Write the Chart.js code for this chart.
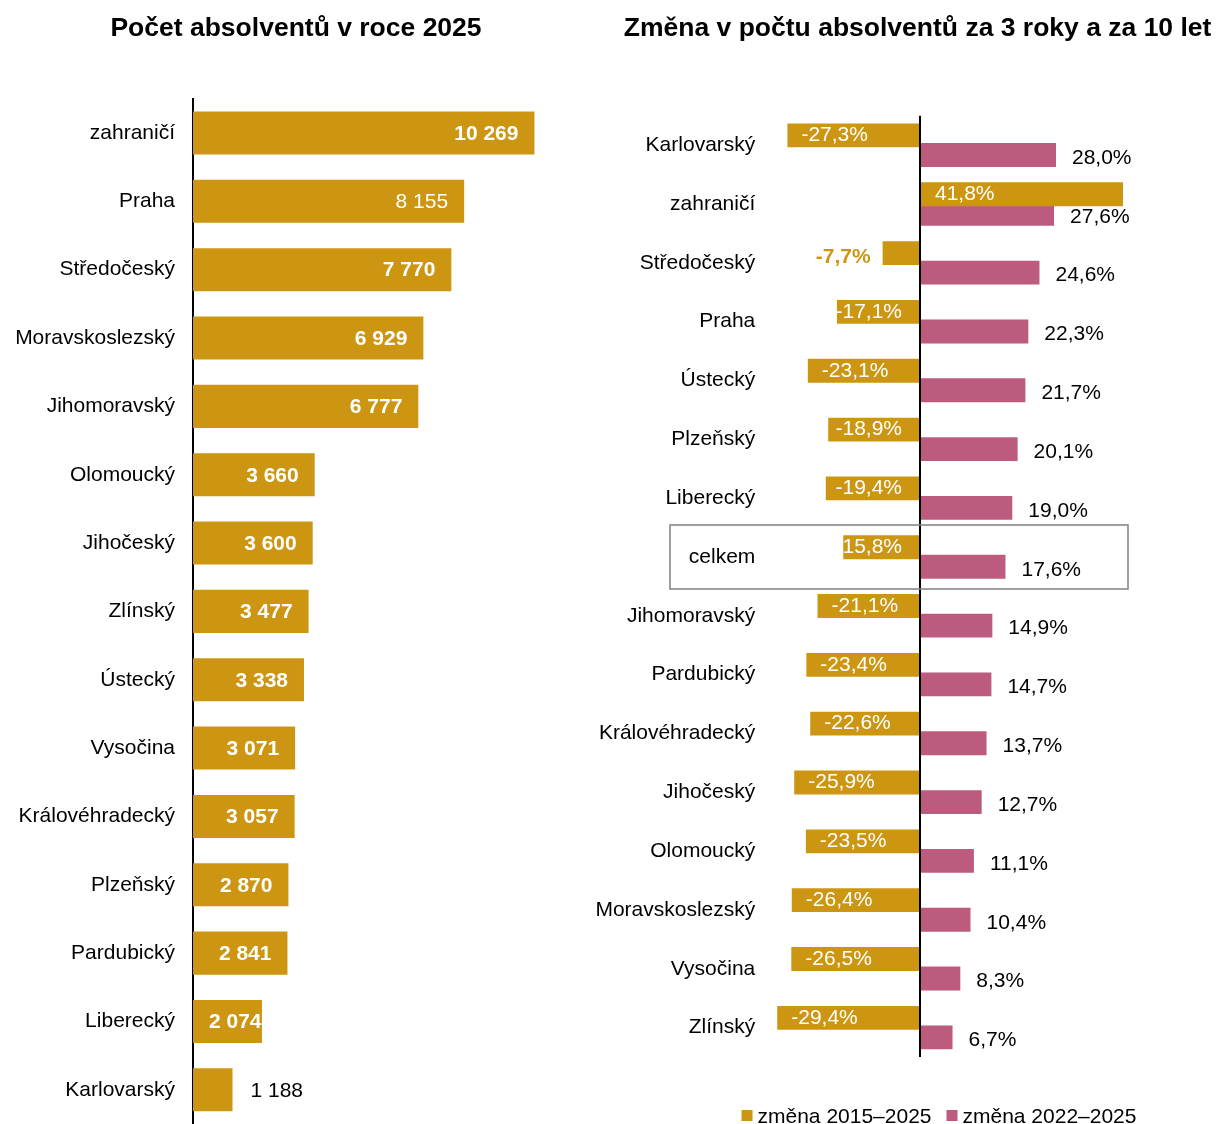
<!DOCTYPE html>
<html lang="cs">
<head>
<meta charset="utf-8">
<title>Absolventi podle krajů</title>
<script src="https://cdn.jsdelivr.net/npm/chart.js@4.4.1/dist/chart.umd.min.js"></script>
<style>
  html, body { margin: 0; padding: 0; background: #fff; overflow: hidden; }
  #countWrap { position: absolute; left: 0; top: 0; width: 592px; height: 1124px; }
  #changeWrap { position: absolute; left: 580px; top: 0; width: 638px; height: 1124px; }
</style>
</head>
<body>
<div id="countWrap"><canvas id="countChart"></canvas></div>
<div id="changeWrap"><canvas id="changeChart"></canvas></div>

<script>
// left chart - number of graduates in 2025
var countRegions = ['zahraničí', 'Praha', 'Středočeský', 'Moravskoslezský', 'Jihomoravský',
    'Olomoucký', 'Jihočeský', 'Zlínský', 'Ústecký', 'Vysočina', 'Královéhradecký',
    'Plzeňský', 'Pardubický', 'Liberecký', 'Karlovarský'];
var countValues = [10269, 8155, 7770, 6929, 6777, 3660, 3600, 3477, 3338, 3071, 3057, 2870, 2841, 2074, 1188];
var plainValueLabels = ['Praha']; // in the source this label is not bold

// right chart - change over 10 and 3 years
var changeRegions = ['Karlovarský', 'zahraničí', 'Středočeský', 'Praha', 'Ústecký', 'Plzeňský',
    'Liberecký', 'celkem', 'Jihomoravský', 'Pardubický', 'Královéhradecký', 'Jihočeský',
    'Olomoucký', 'Moravskoslezský', 'Vysočina', 'Zlínský'];
var change2015 = [-27.3, 41.8, -7.7, -17.1, -23.1, -18.9, -19.4, -15.8, -21.1, -23.4, -22.6, -25.9, -23.5, -26.4, -26.5, -29.4];
var change2022 = [28.0, 27.6, 24.6, 22.3, 21.7, 20.1, 19.0, 17.6, 14.9, 14.7, 13.7, 12.7, 11.1, 10.4, 8.3, 6.7];
var seriesNames = ['změna 2015–2025', 'změna 2022–2025'];
var unsignedLabels = ['celkem']; // source prints this one without the minus sign
var highlightRegion = 'celkem';

const ORANGE = '#CC9612';
const PINK = '#BC5B7E';
const FONT = '"Liberation Sans", Arial, sans-serif';

Chart.defaults.font.family = FONT;
Chart.defaults.color = '#000';

function fmtThousands(v) {
    return String(v).replace(/\B(?=(\d{3})+(?!\d))/g, ' ');
}

function fmtPct(v) {
    return v.toFixed(1).replace('.', ',') + '%';
}

// value labels for the left chart
const countLabels = {
    id: 'countLabels',
    afterDatasetsDraw(chart) {
        const ctx = chart.ctx;
        const meta = chart.getDatasetMeta(0);
        const x0 = chart.scales.x.getPixelForValue(0);
        ctx.save();
        ctx.textBaseline = 'middle';
        meta.data.forEach((bar, i) => {
            const txt = fmtThousands(countValues[i]);
            const bold = plainValueLabels.indexOf(countRegions[i]) < 0;
            ctx.font = (bold ? 'bold ' : '') + '21px ' + FONT;
            const w = ctx.measureText(txt).width;
            if (bar.x - x0 < w + 10) {
                // too short, put it outside
                ctx.fillStyle = '#000';
                ctx.font = '21px ' + FONT;
                ctx.textAlign = 'left';
                ctx.fillText(txt, bar.x + 18, bar.y + 1);
            } else {
                ctx.fillStyle = '#fff';
                ctx.textAlign = 'right';
                ctx.fillText(txt, Math.max(bar.x - 16, x0 + 16 + w), bar.y + 1);
            }
        });
        ctx.restore();
    }
};

// value labels, highlight box and legend for the right chart
const changeLabels = {
    id: 'changeLabels',
    afterDatasetsDraw(chart) {
        const ctx = chart.ctx;
        const x0 = chart.scales.x.getPixelForValue(0);
        ctx.save();
        ctx.textBaseline = 'middle';
        ctx.textAlign = 'left';

        chart.getDatasetMeta(0).data.forEach((bar, i) => {
            let v = change2015[i];
            if (unsignedLabels.indexOf(changeRegions[i]) >= 0) v = Math.abs(v);
            const txt = fmtPct(v);
            const left = Math.min(bar.x, bar.base);
            const right = Math.max(bar.x, bar.base);
            ctx.font = '21px ' + FONT;
            const w = ctx.measureText(txt).width;
            if (right - left < w + 6) {
                ctx.font = 'bold 21px ' + FONT;
                ctx.fillStyle = ORANGE;
                ctx.textAlign = 'right';
                ctx.fillText(txt, left - 12, bar.y + 4);
                ctx.textAlign = 'left';
            } else {
                ctx.fillStyle = '#fff';
                ctx.fillText(txt, Math.min(left + 14, right - 17 - w), bar.y);
            }
        });

        ctx.font = '21px ' + FONT;
        ctx.fillStyle = '#000';
        chart.getDatasetMeta(1).data.forEach((bar, i) => {
            ctx.fillText(fmtPct(change2022[i]), bar.x + 16, bar.y + 3);
        });

        // box round the "celkem" row
        const yc = chart.scales.y.getPixelForValue(changeRegions.indexOf(highlightRegion));
        ctx.strokeStyle = '#808080';
        ctx.lineWidth = 1.5;
        ctx.strokeRect(x0 - 250, yc - 32, 458, 64);

        // legend
        const ly = chart.chartArea.bottom + 58;
        const widths = seriesNames.map(s => ctx.measureText(s).width);
        const total = 11 + 5 + widths[0] + 15 + 11 + 5 + widths[1];
        let lx = x0 + 19 - total / 2;
        [ORANGE, PINK].forEach((c, i) => {
            ctx.fillStyle = c;
            ctx.fillRect(lx, ly - 5, 11, 11);
            ctx.fillStyle = '#000';
            ctx.fillText(seriesNames[i], lx + 16, ly + 2);
            lx += 16 + widths[i] + 15;
        });
        ctx.restore();
    }
};

new Chart(document.getElementById('countChart'), {
    type: 'bar',
    data: {
        labels: countRegions,
        datasets: [{
            data: countValues,
            backgroundColor: ORANGE,
            categoryPercentage: 1,
            barPercentage: 0.63
        }]
    },
    options: {
        indexAxis: 'y',
        responsive: true,
        maintainAspectRatio: false,
        animation: false,
        plugins: {
            legend: { display: false },
            tooltip: { enabled: false },
            title: {
                display: true,
                text: 'Počet absolventů v roce 2025',
                color: '#000',
                font: { size: 26.5, weight: 'bold' },
                padding: { top: 13, bottom: 54 }
            }
        },
        scales: {
            x: { display: false, min: 0, max: 12000 },
            y: {
                z: 1,
                afterFit: function (s) {
                    s.width = 193;
                    // let the bars run to the bottom edge
                    s.paddingTop = 0;
                    s.paddingBottom = 0;
                },
                grid: { display: false, drawTicks: false },
                border: { display: true, color: '#000', width: 2 },
                ticks: { padding: 18, color: '#000', font: { size: 21 } }
            }
        }
    },
    plugins: [countLabels]
});

new Chart(document.getElementById('changeChart'), {
    type: 'bar',
    data: {
        labels: changeRegions,
        datasets: [{
            label: seriesNames[0],
            data: change2015,
            backgroundColor: ORANGE,
            categoryPercentage: 0.665,
            barPercentage: 1.22
        }, {
            label: seriesNames[1],
            data: change2022,
            backgroundColor: PINK,
            categoryPercentage: 0.665,
            barPercentage: 1.22
        }]
    },
    options: {
        indexAxis: 'y',
        responsive: true,
        maintainAspectRatio: false,
        animation: false,
        layout: { padding: { right: 6.6 } },
        plugins: {
            legend: { display: false },
            tooltip: { enabled: false },
            title: {
                display: true,
                align: 'end',
                text: 'Změna v počtu absolventů za 3 roky a za 10 let',
                color: '#000',
                font: { size: 26.5, weight: 'bold' },
                padding: { top: 13, bottom: 71 }
            }
        },
        scales: {
            x: {
                z: 1,
                min: -30,
                max: 60,
                afterFit: function (s) { s.height = 67; },
                ticks: { display: false, stepSize: 10 },
                border: { display: false },
                grid: {
                    drawTicks: false,
                    lineWidth: 2,
                    color: function (c) { return c.tick && c.tick.value === 0 ? '#000' : 'rgba(0,0,0,0)'; }
                }
            },
            y: {
                afterFit: function (s) { s.width = 194.3; },
                grid: { display: false, drawTicks: false },
                border: { display: false },
                ticks: { padding: 19, color: '#000', font: { size: 21 } }
            }
        }
    },
    plugins: [changeLabels]
});
</script>
</body>
</html>
